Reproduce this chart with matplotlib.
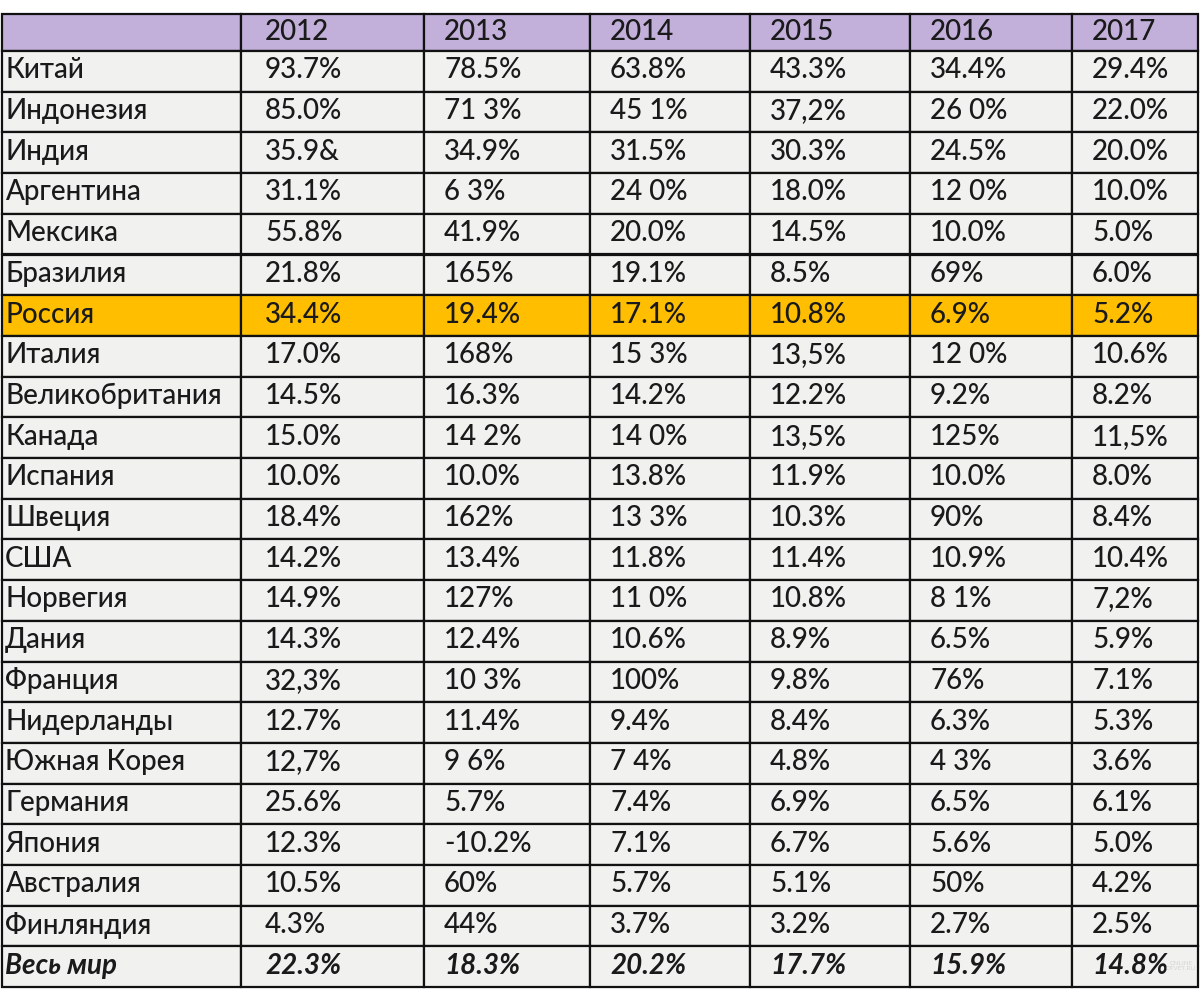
import matplotlib.pyplot as plt
from matplotlib.patches import Rectangle

years = ['2012', '2013', '2014', '2015', '2016', '2017']
countries = ['Китай', 'Индонезия', 'Индия', 'Аргентина', 'Мексика', 'Бразилия',
             'Россия', 'Италия', 'Великобритания', 'Канада', 'Испания', 'Швеция',
             'США', 'Норвегия', 'Дания', 'Франция', 'Нидерланды', 'Южная Корея',
             'Германия', 'Япония', 'Австралия', 'Финляндия']
v2012 = ['93.7%', '85.0%', '35.9&', '31.1%', '55.8%', '21.8%', '34.4%', '17.0%',
         '14.5%', '15.0%', '10.0%', '18.4%', '14.2%', '14.9%', '14.3%', '32,3%',
         '12.7%', '12,7%', '25.6%', '12.3%', '10.5%', '4.3%']
v2013 = ['78.5%', '71 3%', '34.9%', '6 3%', '41.9%', '165%', '19.4%', '168%',
         '16.3%', '14 2%', '10.0%', '162%', '13.4%', '127%', '12.4%', '10 3%',
         '11.4%', '9 6%', '5.7%', '-10.2%', '60%', '44%']
v2014 = ['63.8%', '45 1%', '31.5%', '24 0%', '20.0%', '19.1%', '17.1%', '15 3%',
         '14.2%', '14 0%', '13.8%', '13 3%', '11.8%', '11 0%', '10.6%', '100%',
         '9.4%', '7 4%', '7.4%', '7.1%', '5.7%', '3.7%']
v2015 = ['43.3%', '37,2%', '30.3%', '18.0%', '14.5%', '8.5%', '10.8%', '13,5%',
         '12.2%', '13,5%', '11.9%', '10.3%', '11.4%', '10.8%', '8.9%', '9.8%',
         '8.4%', '4.8%', '6.9%', '6.7%', '5.1%', '3.2%']
v2016 = ['34.4%', '26 0%', '24.5%', '12 0%', '10.0%', '69%', '6.9%', '12 0%',
         '9.2%', '125%', '10.0%', '90%', '10.9%', '8 1%', '6.5%', '76%',
         '6.3%', '4 3%', '6.5%', '5.6%', '50%', '2.7%']
v2017 = ['29.4%', '22.0%', '20.0%', '10.0%', '5.0%', '6.0%', '5.2%', '10.6%',
         '8.2%', '11,5%', '8.0%', '8.4%', '10.4%', '7,2%', '5.9%', '7.1%',
         '5.3%', '3.6%', '6.1%', '5.0%', '4.2%', '2.5%']
world_label = 'Весь мир'
world = ['22.3%', '18.3%', '20.2%', '17.7%', '15.9%', '14.8%']
highlight = 'Россия'

# layout (pixels of the 1200x999 canvas)
col_edges = [2, 241, 424, 590, 750, 910, 1072, 1198]
top, header_h, row_h = 14, 37, 40.7
text_pad = [3, 24, 20, 20, 20, 20, 20]

header_color = '#C2B0DA'
cell_color = '#F1F2F0'
hl_color = '#FFBF00'

plt.rcParams['font.family'] = ['Lato', 'DejaVu Sans']

fig = plt.figure(figsize=(12, 9.99), dpi=100)
ax = fig.add_axes([0, 0, 1, 1])
ax.set_xlim(0, 1200)
ax.set_ylim(999, 0)
ax.axis('off')

columns = [v2012, v2013, v2014, v2015, v2016, v2017]
rows = [[''] + years]
for i, c in enumerate(countries):
    rows.append([c] + [col[i] for col in columns])
rows.append([world_label] + world)

y = top
for r, row in enumerate(rows):
    h = header_h if r == 0 else row_h
    if r == 0:
        fc = header_color
    elif row[0] == highlight:
        fc = hl_color
    else:
        fc = cell_color
    last = (r == len(rows) - 1)
    for c, txt in enumerate(row):
        x0, x1 = col_edges[c], col_edges[c + 1]
        ax.add_patch(Rectangle((x0, y), x1 - x0, h, facecolor=fc,
                               edgecolor='#111111', linewidth=1.6))
        ax.text(x0 + text_pad[c], y + h / 2 - 1, txt, ha='left', va='center',
                fontsize=20, color='#1a1a1a',
                fontweight='bold' if last else 'medium',
                fontstyle='italic' if last else 'normal')
    y += h

# faint watermark in the corner
ax.text(1181, 966, 'ONLINE\nOTVET.RU', ha='center', va='center', fontsize=4.5,
        color='#c8c8c8', alpha=0.7)

fig.savefig('out.png', dpi=100)
